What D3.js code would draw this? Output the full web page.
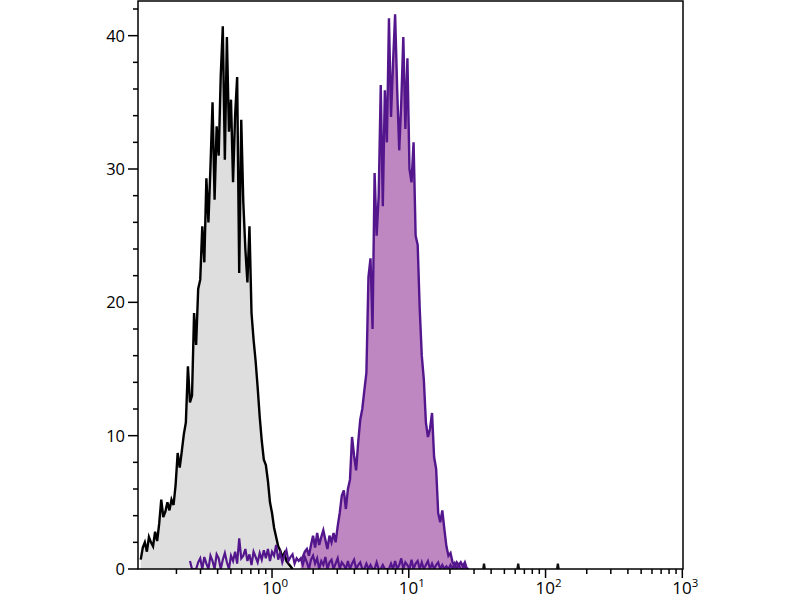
<!DOCTYPE html>
<html>
<head>
<meta charset="utf-8">
<script src="https://cdn.jsdelivr.net/npm/d3@7"></script>
<style>
  html, body { margin: 0; padding: 0; background: #fff; }
  svg { display: block; }
  text { font-family: "Open Sans", "Noto Sans", sans-serif; fill: #000; }
</style>
</head>
<body>
<svg id="chart" width="800" height="600"></svg>
<script>
// ---------- data ----------
// histogram channels: log10 bin centres start at binStartLog, step binWidthLog
const binStartLog = -0.96;
const binWidthLog = 0.015;

// unstained control (grey), channels 0..74
const controlStart = 0;
const controlCounts = [
  0.7, 1.6, 2.0, 1.3, 2.4, 2.0, 1.7, 2.8, 2.1, 3.4,
  5.2, 3.9, 4.3, 5.0, 4.4, 5.2, 4.8, 6.3, 8.7, 7.6,
  8.8, 10.1, 11.0, 15.2, 12.5, 13.0, 19.2, 16.8, 21.0, 21.7,
  25.7, 23.0, 29.3, 26.0, 30.2, 35.0, 27.7, 33.2, 31.0, 37.0,
  40.7, 30.7, 39.9, 32.8, 35.2, 29.0, 34.0, 36.9, 22.2, 33.7,
  27.5, 24.0, 21.5, 25.7, 19.2, 17.2, 15.6, 13.6, 11.4, 9.6,
  8.2, 7.8, 6.6, 5.0, 4.2, 3.1, 2.4, 1.7, 1.4, 0.9,
  1.2, 0.6, 0.4, 0.2, 0
];

// stained sample (purple), channels 78..160
const stainedStart = 78;
const stainedCounts = [
  0.6, 0.9, 1.3, 1.5, 1.0, 1.8, 2.5, 1.6, 2.7, 1.8,
  2.4, 2.9, 2.2, 1.5, 2.5, 2.0, 2.7, 2.0, 3.2, 4.2,
  5.5, 5.9, 4.5, 6.0, 6.7, 9.9, 8.5, 7.4, 9.5, 11.2,
  12.0, 13.4, 14.7, 21.9, 23.3, 18.0, 29.7, 25.0, 28.0, 36.3,
  27.2, 35.9, 32.0, 41.3, 33.9, 38.0, 41.6, 36.0, 31.4, 35.0,
  39.9, 33.0, 38.3, 30.0, 29.0, 32.0, 25.0, 24.3, 19.5, 16.0,
  14.2, 11.0, 9.9, 10.5, 11.7, 8.4, 7.5, 4.2, 3.5, 4.4,
  3.0, 1.7, 1.0, 1.2, 0.5, 0.2, 0.5, 0.3, 0.5, 0.2,
  0.5, 0, 0
];

// low-level purple trace along the baseline, channels 24..160
const lowStart = 24;
const lowCounts = [
  0.6, 0, 0, 0, 0.5, 0.8, 0, 0.9, 0.4, 0, 1.0, 0.6, 0, 1.1, 0.8, 0, 0.7,
  1.2, 0.5, 0, 1.0, 0.6, 1.3, 0.4, 2.3, 0.8, 1.0, 1.5, 0.6, 1.1, 0.3, 1.3, 0.9, 0.5, 1.2, 0.7, 1.4,
  0.8, 1.5, 0.6, 1.3, 1.0, 1.8, 0.7, 1.2, 0.5, 1.0, 1.4, 0.6, 0.9, 1.1, 0.4, 0.8, 0.6,
  0.8, 0.3, 0.9, 0.5, 0, 0.7, 1.0, 0.4, 0.8, 0, 0.6, 0.3, 0.9, 0, 0.5, 0.7, 0, 0.4, 0.8, 0, 0.5, 0.3, 0,
  0.6, 0, 0.4, 0.7, 0, 0.3, 0.5, 0, 0, 0.4, 0, 0.3, 0, 0, 0.5, 0, 0, 0.3, 0, 0,
  0, 0.4, 0, 0.6, 0, 0.3, 0.8, 0, 0.5, 0.3, 0, 0.7, 0, 0.4, 0.6, 0, 0.5, 0, 0.3, 0.6, 0, 0.4, 0, 0.3, 0.5, 0, 0.3, 0, 0.2, 0,
  0.3, 0, 0.4, 0, 0.3, 0, 0, 0.2, 0, 0
];

// isolated rare events far right (log10 positions, counts)
const rareLog = [1.55, 1.80, 2.09];
const rareCounts = [0.4, 0.4, 0.4];

const yTicks = [0, 10, 20, 30, 40];
const yMinorTicks = [2, 4, 6, 8, 12, 14, 16, 18, 22, 24, 26, 28, 32, 34, 36, 38, 42];
const xTickExps = [0, 1, 2, 3];

// ---------- layout ----------
const svg = d3.select("#chart");
const mLeft = 138, mRight = 683, mTop = 1, mBottom = 569;

const x = d3.scaleLog().domain([Math.pow(10, -0.98), Math.pow(10, 3.005)]).range([mLeft, mRight]);
const y = d3.scaleLinear().domain([0, 42.6]).range([mBottom, mTop]);

function toPoints(start, counts) {
  return counts.map((c, i) => ({ v: Math.pow(10, binStartLog + binWidthLog * (start + i)), c }));
}

svg.append("defs").append("clipPath").attr("id", "plotClip")
  .append("rect").attr("x", mLeft).attr("y", mTop).attr("width", mRight - mLeft).attr("height", mBottom - mTop);

const plot = svg.append("g").attr("clip-path", "url(#plotClip)");

const area = d3.area().x(d => x(d.v)).y0(y(0)).y1(d => y(d.c));
const line = d3.line().x(d => x(d.v)).y(d => y(d.c));

const ctrl = toPoints(controlStart, controlCounts);
const stained = toPoints(stainedStart, stainedCounts);
const low = toPoints(lowStart, lowCounts);

plot.append("path").datum(ctrl).attr("d", area).attr("fill", "#dedede");
plot.append("path").datum(ctrl).attr("d", line)
  .attr("fill", "none").attr("stroke", "#000").attr("stroke-width", 2.4);

plot.append("path").datum(stained).attr("d", area).attr("fill", "#bf87c2");

plot.append("path").datum(low).attr("d", line)
  .attr("fill", "none").attr("stroke", "#54168c").attr("stroke-width", 2.2);

plot.append("path").datum(stained).attr("d", line)
  .attr("fill", "none").attr("stroke", "#54168c").attr("stroke-width", 2.4);

// rare events
rareLog.forEach((l, i) => {
  const v = Math.pow(10, l);
  const pts = [{ v: Math.pow(10, l - 0.006), c: 0 }, { v, c: rareCounts[i] }, { v: Math.pow(10, l + 0.006), c: 0 }];
  plot.append("path").datum(pts).attr("d", line)
    .attr("fill", "none").attr("stroke", "#111").attr("stroke-width", 2.2);
});

// ---------- frame ----------
svg.append("rect").attr("x", mLeft).attr("y", mTop).attr("width", mRight - mLeft).attr("height", mBottom - mTop)
  .attr("fill", "none").attr("stroke", "#000").attr("stroke-width", 1.5);

// y axis
const yAxis = svg.append("g");
yAxis.selectAll("line.major").data(yTicks).enter().append("line")
  .attr("x1", mLeft - 10).attr("x2", mLeft).attr("y1", d => y(d)).attr("y2", d => y(d))
  .attr("stroke", "#000").attr("stroke-width", 1.5);
yAxis.selectAll("line.minor").data(yMinorTicks).enter().append("line")
  .attr("x1", mLeft - 5).attr("x2", mLeft).attr("y1", d => y(d)).attr("y2", d => y(d))
  .attr("stroke", "#000").attr("stroke-width", 1.5);
yAxis.selectAll("text").data(yTicks).enter().append("text")
  .attr("x", 125).attr("y", d => y(d)).attr("dy", "0.36em")
  .attr("text-anchor", "end").attr("font-size", 16.5).text(d => d);

// x axis
const xAxis = svg.append("g");
const minor = [];
for (let e = -1; e < 3; e++) {
  for (let m = 2; m <= 9; m++) {
    const v = m * Math.pow(10, e);
    if (v >= x.domain()[0] && v <= x.domain()[1]) minor.push(v);
  }
}
xAxis.selectAll("line.minor").data(minor).enter().append("line")
  .attr("x1", d => x(d)).attr("x2", d => x(d)).attr("y1", mBottom).attr("y2", mBottom + 5)
  .attr("stroke", "#000").attr("stroke-width", 1.5);
xAxis.selectAll("line.major").data(xTickExps).enter().append("line")
  .attr("x1", d => x(Math.pow(10, d))).attr("x2", d => x(Math.pow(10, d)))
  .attr("y1", mBottom).attr("y2", mBottom + 9)
  .attr("stroke", "#000").attr("stroke-width", 1.5);
const lbl = xAxis.selectAll("text").data(xTickExps).enter().append("text")
  .attr("x", d => x(Math.pow(10, d)) + 3).attr("y", 594)
  .attr("text-anchor", "middle").attr("font-size", 17);
lbl.append("tspan").text("10");
lbl.append("tspan").attr("font-size", 11.5).attr("dy", -7).text(d => d);
</script>
</body>
</html>
